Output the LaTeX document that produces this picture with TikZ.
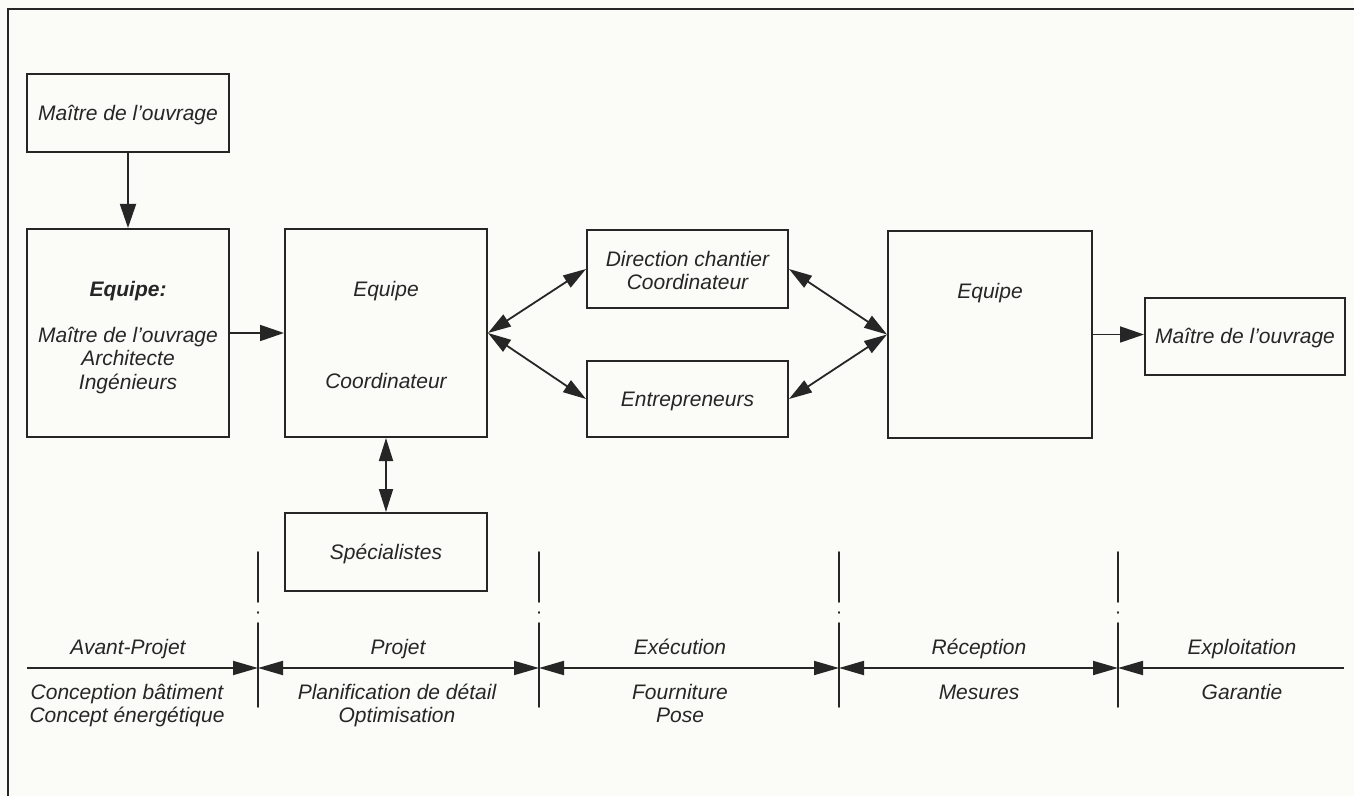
\documentclass[tikz,border=0pt]{standalone}
\usepackage{fontspec}
\setmainfont{Liberation Sans}
\usetikzlibrary{arrows.meta}
\definecolor{paper}{RGB}{251,251,247}
\definecolor{ink}{RGB}{38,38,38}
\begin{document}
\begin{tikzpicture}[x=0.5pt,y=-0.5pt,
  lab/.style={font=\fontsize{10.5}{12}\selectfont\itshape, text=ink},
  box/.style={lab, draw=ink, line width=1pt, inner sep=0pt, text height=7.5pt, text depth=0pt},
  txt/.style={lab, anchor=base, inner sep=0pt},
  conn/.style={draw=ink, line width=0.9pt},
  tip/.style={-{Triangle[length=12pt,width=8pt]}},
  tips/.style={{Triangle[length=11.5pt,width=7pt]}-{Triangle[length=11.5pt,width=7pt]}},
  bl/.style={-{Triangle[length=12.5pt,width=7pt]}},
  bb/.style={{Triangle[length=12.5pt,width=7pt]}-{Triangle[length=12.5pt,width=7pt]}},
  br/.style={{Triangle[length=12.5pt,width=7pt]}-},
  phase/.style={draw=ink, line width=0.9pt, line cap=round, dash pattern=on 25pt off 5pt on 0.5pt off 5pt on 60pt}]
\fill[paper] (0,0) rectangle (1354,796);
\useasboundingbox (0,0) rectangle (1354,796);
% frame
\coordinate (f1) at (8,796);
\coordinate (f2) at (8,9);
\coordinate (f3) at (1354,9);
\draw[ink, line width=1.4pt] (f1) -- (f2) -- (f3);
% boxes
\node[box, minimum width=101pt, minimum height=39pt] (A) at (128,113) {Maître de l'ouvrage};
\node[box, minimum width=101pt, minimum height=104pt] (B) at (128,333) {};
\node[box, minimum width=101pt, minimum height=104pt] (C) at (386,333) {};
\node[box, minimum width=100.5pt, minimum height=39pt] (D) at (687.5,269) {};
\node[box, minimum width=100.5pt, minimum height=38pt] (E) at (687.5,399) {Entrepreneurs};
\node[box, minimum width=102pt, minimum height=103.5pt] (F) at (990,334.5) {};
\node[box, minimum width=100pt, minimum height=38.5pt] (G) at (1245,336.5) {Maître de l'ouvrage};
\node[box, minimum width=101pt, minimum height=39pt] (S) at (386,552) {Spécialistes};
% texts in boxes
\node[txt] (b1) at (128,296.5) {\bfseries Equipe:};
\node[txt] (b2) at (128,342.5) {Maître de l'ouvrage};
\node[txt] (b3) at (128,365.5) {Architecte};
\node[txt] (b4) at (128,389.5) {Ingénieurs};
\node[txt] (c1) at (386,296.5) {Equipe};
\node[txt] (c2) at (386,388.5) {Coordinateur};
\node[txt] (d1) at (687.5,266.5) {Direction chantier};
\node[txt] (d2) at (687.5,289.5) {Coordinateur};
\node[txt] (f1t) at (990,298.5) {Equipe};
% connectors
\draw[conn, tip] (A) -- (B);
\draw[conn, tip] (B) -- (C);
\draw[conn, tips] (C.east) -- (D.west);
\draw[conn, tips] (C.east) -- (E.west);
\draw[conn, tips] (D.east) -- (F.west);
\draw[conn, tips] (E.east) -- (F.west);
\draw[conn, tip] (F.east) -- (F.east -| G.west);
\draw[conn, tips] (C) -- (S);
% phase lines
\foreach \x/\n in {258/1,539/2,839/3,1118/4}{
  \coordinate (v\n t) at (\x,552);
  \coordinate (v\n b) at (\x,707);
  \coordinate (v\n) at (\x,668);
  \draw[phase] (v\n t) -- (v\n b);
}
\coordinate (t0) at (27,668);
\coordinate (t5) at (1344,668);
\draw[conn, bl] (t0) -- (v1);
\draw[conn, bb] (v1) -- (v2);
\draw[conn, bb] (v2) -- (v3);
\draw[conn, bb] (v3) -- (v4);
\draw[conn, br] (v4) -- (t5);
% phase labels
\node[txt] (p1) at (128,654.5) {Avant-Projet};
\node[txt] (p2) at (398,654.5) {Projet};
\node[txt] (p3) at (680,654.5) {Exécution};
\node[txt] (p4) at (979,654.5) {Réception};
\node[txt] (p5) at (1242,654.5) {Exploitation};
\node[txt] (q1a) at (127,699.5) {Conception bâtiment};
\node[txt] (q1b) at (127,722.5) {Concept énergétique};
\node[txt] (q2a) at (397,699.5) {Planification de détail};
\node[txt] (q2b) at (397,722.5) {Optimisation};
\node[txt] (q3a) at (680,699.5) {Fourniture};
\node[txt] (q3b) at (680,722.5) {Pose};
\node[txt] (q4a) at (979,699.5) {Mesures};
\node[txt] (q5a) at (1242,699.5) {Garantie};
\end{tikzpicture}
\end{document}
